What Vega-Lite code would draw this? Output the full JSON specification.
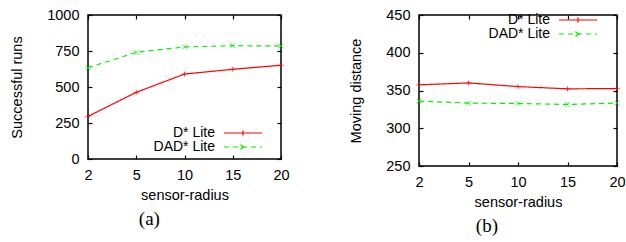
{
  "$schema": "https://vega.github.io/schema/vega-lite/v6.json",
  "padding": {"left": 8, "top": -1, "right": 0, "bottom": 0},
  "background": "white",
  "spacing": 58,
  "config": {
    "font": "Liberation Sans",
    "view": {"stroke": "#000", "strokeWidth": 1.5},
    "axis": {"domain": false, "grid": false, "tickSize": -4, "tickColor": "#000", "tickWidth": 1.2, "labelFont": "Liberation Sans", "labelFontSize": 14.5, "labelColor": "#000", "titleFont": "Liberation Sans", "titleFontSize": 14.5, "titleFontWeight": "normal", "titleColor": "#000"},
    "legend": {"padding": 0, "labelFont": "Liberation Sans", "labelFontSize": 14, "labelColor": "#000"},
    "title": {"font": "Liberation Serif", "fontSize": 19, "fontWeight": "normal", "color": "#000"}
  },
  "datasets": {
    "a": [
      {"x": 2, "s": "D* Lite", "v": 296}, {"x": 5, "s": "D* Lite", "v": 463}, {"x": 10, "s": "D* Lite", "v": 590}, {"x": 15, "s": "D* Lite", "v": 623}, {"x": 20, "s": "D* Lite", "v": 651},
      {"x": 2, "s": "DAD* Lite", "v": 634}, {"x": 5, "s": "DAD* Lite", "v": 741}, {"x": 10, "s": "DAD* Lite", "v": 778}, {"x": 15, "s": "DAD* Lite", "v": 787}, {"x": 20, "s": "DAD* Lite", "v": 785}
    ],
    "b": [
      {"x": 2, "s": "D* Lite", "v": 357.5}, {"x": 5, "s": "D* Lite", "v": 360}, {"x": 10, "s": "D* Lite", "v": 355.2}, {"x": 15, "s": "D* Lite", "v": 352.2}, {"x": 20, "s": "D* Lite", "v": 352.6},
      {"x": 2, "s": "DAD* Lite", "v": 335.9}, {"x": 5, "s": "DAD* Lite", "v": 333.3}, {"x": 10, "s": "DAD* Lite", "v": 332.8}, {"x": 15, "s": "DAD* Lite", "v": 331.5}, {"x": 20, "s": "DAD* Lite", "v": 333.3}
    ]
  },
  "resolve": {"legend": {"color": "independent", "strokeDash": "independent"}},
  "hconcat": [
    {
      "width": 193, "height": 144,
      "data": {"name": "a"},
      "title": {"text": "(a)", "orient": "bottom", "frame": "bounds", "anchor": "middle", "offset": 8},
      "layer": [
        {
          "mark": {"type": "line", "strokeWidth": 1.2},
          "encoding": {
            "x": {"field": "x", "type": "ordinal", "scale": {"type": "point", "padding": 0, "domain": [2, 5, 10, 15, 20]}, "axis": {"orient": "bottom", "title": "sensor-radius", "labelAngle": 0, "labelPadding": 13, "titlePadding": 7}},
            "y": {"field": "v", "type": "quantitative", "scale": {"domain": [0, 1000], "nice": false, "zero": false}, "axis": {"orient": "left", "title": "Successful runs", "format": "d", "values": [0, 250, 500, 750, 1000], "labelPadding": 13, "titlePadding": 22}},
            "color": {"field": "s", "type": "nominal", "scale": {"domain": ["D* Lite", "DAD* Lite"], "range": ["#ff0000", "#00ee00"]},
              "legend": {"title": null, "orient": "none", "legendX": 148, "legendY": 111, "symbolType": "M-3.8,0L3.8,0M0,-0.5L0,0.5", "symbolSize": 100, "symbolStrokeWidth": 1.2, "labelAlign": "right", "labelOffset": -35, "rowPadding": -3.5,
                "encode": {"symbols": {"update": {"shape": {"signal": "datum.value === 'D* Lite' ? 'M-3.8,0L3.8,0M0,-0.5L0,0.5' : 'M-3.8,0L3.8,0M-0.5,-0.5L0.5,0.5M-0.5,0.5L0.5,-0.5'"}, "fill": {"value": "transparent"}}}}}},
            "strokeDash": {"field": "s", "type": "nominal", "scale": {"domain": ["D* Lite", "DAD* Lite"], "range": [[1, 0], [5, 4]]},
              "legend": {"title": null, "orient": "none", "legendX": 148, "legendY": 111, "symbolType": "M-3.8,0L3.8,0M0,-0.5L0,0.5", "symbolSize": 100, "symbolStrokeWidth": 1.2, "labelAlign": "right", "labelOffset": -35, "rowPadding": -3.5,
                "encode": {"symbols": {"update": {"shape": {"signal": "datum.value === 'D* Lite' ? 'M-3.8,0L3.8,0M0,-0.5L0,0.5' : 'M-3.8,0L3.8,0M-0.5,-0.5L0.5,0.5M-0.5,0.5L0.5,-0.5'"}, "fill": {"value": "transparent"}}}}}}
          }
        },
        {
          "mark": {"type": "point", "filled": false, "size": 25, "strokeWidth": 1},
          "encoding": {
            "x": {"field": "x", "type": "ordinal", "axis": null},
            "y": {"field": "v", "type": "quantitative", "axis": null},
            "color": {"field": "s", "type": "nominal", "legend": null},
            "shape": {"field": "s", "type": "nominal", "scale": {"domain": ["D* Lite", "DAD* Lite"], "range": ["M-1,0L1,0M0,-1L0,1", "M-1,-1L1,1M-1,1L1,-1"]}, "legend": null}
          }
        },
        {
          "mark": {"type": "point", "opacity": 0},
          "encoding": {
            "x": {"field": "x", "type": "ordinal", "axis": {"orient": "top", "title": null, "labels": true, "labelOpacity": 0, "labelPadding": 3.75, "labelAngle": 0}},
            "y": {"field": "v", "type": "quantitative", "axis": {"orient": "right", "title": null, "labels": false, "values": [0, 250, 500, 750, 1000]}}
          }
        }
      ],
      "resolve": {"axis": {"x": "independent", "y": "independent"}}
    },
    {
      "width": 198, "height": 151,
      "data": {"name": "b"},
      "title": {"text": "(b)", "orient": "bottom", "frame": "bounds", "anchor": "middle", "offset": 8},
      "layer": [
        {
          "mark": {"type": "line", "strokeWidth": 1.2},
          "encoding": {
            "x": {"field": "x", "type": "ordinal", "scale": {"type": "point", "padding": 0, "domain": [2, 5, 10, 15, 20]}, "axis": {"orient": "bottom", "title": "sensor-radius", "labelAngle": 0, "labelPadding": 13, "titlePadding": 7}},
            "y": {"field": "v", "type": "quantitative", "scale": {"domain": [250, 450], "nice": false, "zero": false}, "axis": {"orient": "left", "title": "Moving distance", "format": "d", "values": [250, 300, 350, 400, 450], "labelPadding": 13, "titlePadding": 22}},
            "color": {"field": "s", "type": "nominal", "scale": {"domain": ["D* Lite", "DAD* Lite"], "range": ["#ff0000", "#00ee00"]},
              "legend": {"title": null, "orient": "none", "legendX": 152, "legendY": -2, "symbolType": "M-3.8,0L3.8,0M0,-0.5L0,0.5", "symbolSize": 100, "symbolStrokeWidth": 1.2, "labelAlign": "right", "labelOffset": -35, "rowPadding": -4.5,
                "encode": {"symbols": {"update": {"shape": {"signal": "datum.value === 'D* Lite' ? 'M-3.8,0L3.8,0M0,-0.5L0,0.5' : 'M-3.8,0L3.8,0M-0.5,-0.5L0.5,0.5M-0.5,0.5L0.5,-0.5'"}, "fill": {"value": "transparent"}}}}}},
            "strokeDash": {"field": "s", "type": "nominal", "scale": {"domain": ["D* Lite", "DAD* Lite"], "range": [[1, 0], [5, 4]]},
              "legend": {"title": null, "orient": "none", "legendX": 152, "legendY": -2, "symbolType": "M-3.8,0L3.8,0M0,-0.5L0,0.5", "symbolSize": 100, "symbolStrokeWidth": 1.2, "labelAlign": "right", "labelOffset": -35, "rowPadding": -4.5,
                "encode": {"symbols": {"update": {"shape": {"signal": "datum.value === 'D* Lite' ? 'M-3.8,0L3.8,0M0,-0.5L0,0.5' : 'M-3.8,0L3.8,0M-0.5,-0.5L0.5,0.5M-0.5,0.5L0.5,-0.5'"}, "fill": {"value": "transparent"}}}}}}
          }
        },
        {
          "mark": {"type": "point", "filled": false, "size": 25, "strokeWidth": 1},
          "encoding": {
            "x": {"field": "x", "type": "ordinal", "axis": null},
            "y": {"field": "v", "type": "quantitative", "axis": null},
            "color": {"field": "s", "type": "nominal", "legend": null},
            "shape": {"field": "s", "type": "nominal", "scale": {"domain": ["D* Lite", "DAD* Lite"], "range": ["M-1,0L1,0M0,-1L0,1", "M-1,-1L1,1M-1,1L1,-1"]}, "legend": null}
          }
        },
        {
          "mark": {"type": "point", "opacity": 0},
          "encoding": {
            "x": {"field": "x", "type": "ordinal", "axis": {"orient": "top", "title": null, "labels": false}},
            "y": {"field": "v", "type": "quantitative", "axis": {"orient": "right", "title": null, "labels": false, "values": [250, 300, 350, 400, 450]}}
          }
        }
      ],
      "resolve": {"axis": {"x": "independent", "y": "independent"}}
    }
  ]
}
